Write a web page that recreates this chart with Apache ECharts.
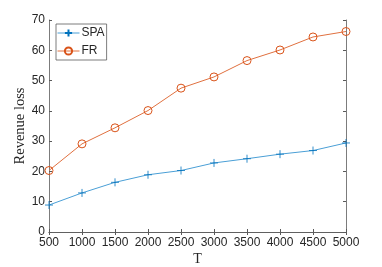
<!DOCTYPE html>
<html><head><meta charset="utf-8">
<script src="https://cdn.jsdelivr.net/npm/echarts@6/dist/echarts.min.js"></script>
<style>html,body{margin:0;padding:0;background:#fff}#c{width:382px;height:267px}</style>
</head><body><div id="c"></div>
<script>
var T = [500,1000,1500,2000,2500,3000,3500,4000,4500,5000];
var SPA = [8.9,12.9,16.4,18.9,20.3,22.8,24.2,25.7,26.9,29.4];
var FR = [20.3,29.1,34.4,40.1,47.5,51.2,56.6,60.1,64.4,66.2];
var xTicks = [500,1000,1500,2000,2500,3000,3500,4000,4500,5000];
var yTicks = [0,10,20,30,40,50,60,70];

function pairs(ys){ return T.map(function(t,i){return [t, ys[i]];}); }
var axisCol = '#5a5a5a';
var lblFont = {color:'#262626', fontFamily:'Liberation Sans', fontSize:12};
var plus = 'path://M0,5L10,5M5,0L5,10';

var chart = echarts.init(document.getElementById('c'), null, {renderer:'canvas'});
chart.setOption({
  animation:false,
  grid:{left:49, right:36, top:20, bottom:35, containLabel:false, outerBoundsMode:'none'},
  legend:{
    orient:'vertical', left:56, top:24,
    backgroundColor:'#fff', borderColor:axisCol, borderWidth:0.8,
    padding:[3,2,3,1], itemGap:6, itemWidth:22, itemHeight:9,
    lineStyle:{width:1, color:'inherit'},
    textStyle:{color:'#262626', fontFamily:'Liberation Sans', fontSize:12, padding:[0,0,0,-3]},
    data:['SPA','FR']
  },
  xAxis:[{
    type:'value', min:500, max:5000, interval:500,
    name:'T', nameLocation:'middle', nameGap:20, nameMoveOverlap:false,
    nameTextStyle:{color:'#262626', fontFamily:'Liberation Serif', fontSize:14},
    axisLine:{lineStyle:{color:axisCol, width:0.8}},
    axisTick:{inside:true, length:3, lineStyle:{color:axisCol}},
    axisLabel:Object.assign({margin:5, formatter:function(v){return xTicks.indexOf(v)>=0?String(v):'';}}, lblFont),
    splitLine:{show:false}
  },{
    type:'value', min:500, max:5000, interval:500, position:'top',
    axisLine:{show:true, lineStyle:{color:axisCol, width:0.8}},
    axisTick:{inside:true, length:3, lineStyle:{color:axisCol}},
    axisLabel:{show:false}, splitLine:{show:false}
  }],
  yAxis:[{
    type:'value', min:0, max:70, interval:10,
    name:'Revenue loss', nameLocation:'middle', nameGap:21, nameMoveOverlap:false,
    nameTextStyle:{color:'#262626', fontFamily:'Liberation Serif', fontSize:14.5},
    axisLine:{show:true, lineStyle:{color:axisCol, width:0.8}},
    axisTick:{show:true, inside:true, length:3, lineStyle:{color:axisCol}},
    axisLabel:Object.assign({margin:4, formatter:function(v){return yTicks.indexOf(v)>=0?String(v):'';}}, lblFont),
    splitLine:{show:false}
  },{
    type:'value', min:0, max:70, interval:10, position:'right',
    axisLine:{show:true, lineStyle:{color:axisCol, width:0.8}},
    axisTick:{show:true, inside:true, length:3, lineStyle:{color:axisCol}},
    axisLabel:{show:false}, splitLine:{show:false}
  }],
  series:[{
    name:'SPA', type:'line', data:pairs(SPA),
    symbol:plus, symbolSize:8,
    lineStyle:{color:'#4a9fd6', width:1},
    itemStyle:{color:'#0072BD', borderColor:'#0072BD', borderWidth:0.8}
  },{
    name:'FR', type:'line', data:pairs(FR),
    symbol:'circle', symbolSize:8,
    lineStyle:{color:'#E0703F', width:1},
    itemStyle:{color:'rgba(255,255,255,0)', borderColor:'#D95319', borderWidth:1}
  }]
});
</script></body></html>
